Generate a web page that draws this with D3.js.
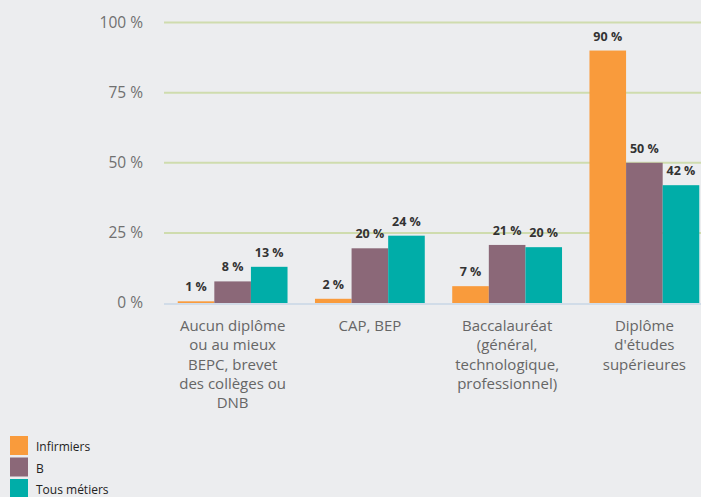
<!DOCTYPE html>
<html>
<head>
<meta charset="utf-8">
<script src="https://cdn.jsdelivr.net/npm/d3@7"></script>
<style>
  body { margin: 0; background: #ecedef; overflow: hidden; }
  svg { display: block; font-family: "Open Sans", sans-serif; }
</style>
</head>
<body>
<div class="chart-container"></div>
<script>
// Categories (x axis), each label split into lines
const categories = [
    ["Aucun diplôme", "ou au mieux", "BEPC, brevet", "des collèges ou", "DNB"],
    ["CAP, BEP"],
    ["Baccalauréat", "(général,", "technologique,", "professionnel)"],
    ["Diplôme", "d'études", "supérieures"]
];
const seriesNames = ["Infirmiers", "B", "Tous métiers"];
const seriesColors = ["#f99b3c", "#8b6878", "#00ada8"];
// Bar values
const infirmiers = [0.6, 1.5, 6, 90];
const bValues = [7.7, 19.5, 20.7, 50];
const tousMetiers = [12.9, 24, 19.9, 42];
// Printed labels
const infirmiersLabels = ["1 %", "2 %", "7 %", "90 %"];
const bLabels = ["8 %", "20 %", "21 %", "50 %"];
const tousLabels = ["13 %", "24 %", "20 %", "42 %"];
const yTicks = [0, 25, 50, 75, 100];

const series = [
    { name: seriesNames[0], color: seriesColors[0], values: infirmiers, labels: infirmiersLabels },
    { name: seriesNames[1], color: seriesColors[1], values: bValues, labels: bLabels },
    { name: seriesNames[2], color: seriesColors[2], values: tousMetiers, labels: tousLabels }
];

const W = 701, H = 497;
const margin = { top: 22.5, left: 164 };
const plotW = 549, plotH = 280.5;

const svg = d3.select(".chart-container").append("svg")
    .attr("width", W).attr("height", H);
const g = svg.append("g").attr("transform", `translate(${margin.left}, ${margin.top})`);

const x0 = d3.scaleBand().domain(d3.range(categories.length)).range([0, plotW]).paddingInner(0.2).paddingOuter(0.1);
const x1 = d3.scaleBand().domain(d3.range(series.length)).range([0, x0.bandwidth()]);
const y = d3.scaleLinear().domain([0, 100]).range([plotH, 0]);

// Gridlines
g.selectAll(".grid").data(yTicks.filter(t => t > 0)).join("line")
    .attr("x1", 0).attr("x2", plotW)
    .attr("y1", d => y(d)).attr("y2", d => y(d))
    .attr("stroke", "#cfdcae").attr("stroke-width", 2);
g.append("line").attr("x1", 0).attr("x2", plotW)
    .attr("y1", y(0) + 1).attr("y2", y(0) + 1)
    .attr("stroke", "#c8d6e6").attr("stroke-width", 1.5);

// Y axis labels
const yAxis = g.append("g").call(d3.axisLeft(y).tickValues(yTicks).tickSize(0).tickPadding(21).tickFormat(d => d + " %"));
yAxis.select(".domain").remove();
yAxis.selectAll("text").attr("fill", "#707070").attr("font-size", 15.5).attr("font-family", "Open Sans");

// Bars
const groups = g.selectAll(".grp").data(categories).join("g")
    .attr("transform", (d, i) => `translate(${x0(i)}, 0)`);
series.forEach((s, si) => {
    groups.append("rect")
        .attr("x", x1(si))
        .attr("width", x1.bandwidth())
        .attr("y", (d, i) => y(s.values[i]))
        .attr("height", (d, i) => y(0) - y(s.values[i]))
        .attr("fill", s.color);
    groups.append("text")
        .attr("x", x1(si) + x1.bandwidth() / 2)
        .attr("y", (d, i) => y(s.values[i]) - 10)
        .attr("text-anchor", "middle")
        .attr("font-size", 12.5).attr("font-weight", "bold").attr("fill", "#333")
        .text((d, i) => s.labels[i]);
});

// Category labels
groups.append("text")
    .attr("x", x0.bandwidth() / 2)
    .attr("y", plotH + 28)
    .attr("text-anchor", "middle")
    .attr("font-size", 15).attr("fill", "#666")
    .selectAll("tspan").data(d => d).join("tspan")
        .attr("x", x0.bandwidth() / 2)
        .attr("dy", (d, i) => i === 0 ? 0 : 19.3)
        .text(d => d);

// Legend
const legend = svg.append("g").attr("transform", "translate(10, 436)");
series.forEach((s, i) => {
    legend.append("rect").attr("x", 0).attr("y", i * 21.5).attr("width", 18).attr("height", 19).attr("fill", s.color);
    legend.append("text").attr("x", 26).attr("y", i * 21.5 + 15)
        .attr("font-size", 12).attr("fill", "#222").text(s.name);
});
</script>
</body>
</html>
